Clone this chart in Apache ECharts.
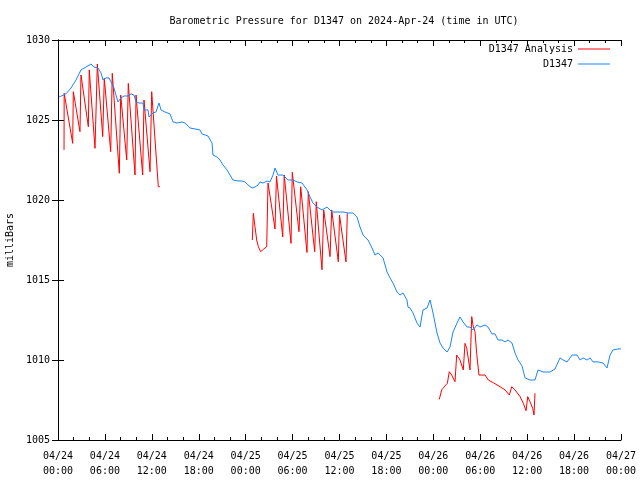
<!DOCTYPE html>
<html><head><meta charset="utf-8">
<script src="https://cdn.jsdelivr.net/npm/echarts@6/dist/echarts.min.js"></script>
<style>html,body{margin:0;padding:0;background:#fff}#c{width:640px;height:480px}</style>
</head><body><div id="c"></div>
<script>
// hours since 2024-04-24 00:00 UTC, pressure in mb
const observed = [
[0.15,1026.44],[1.02,1026.63],[1.66,1027.0],[2.30,1027.5],[2.94,1028.13],[3.58,1028.31],[4.22,1028.5],[4.60,1028.31],
[5.12,1028.25],[5.50,1027.94],[5.76,1027.5],[6.14,1027.63],[6.52,1027.63],[6.78,1027.38],[7.16,1027.0],[7.67,1026.13],
[8.06,1026.38],[8.44,1026.5],[8.95,1026.5],[9.34,1026.63],[9.72,1026.56],[9.98,1026.13],[10.36,1026.06],[10.87,1026.06],
[11.0,1025.63],[11.51,1025.63],[11.64,1025.19],[12.15,1025.44],[12.53,1025.5],[12.92,1026.06],[13.17,1025.63],[13.68,1025.5],
[14.32,1025.38],[14.71,1024.88],[15.22,1024.81],[15.86,1024.88],[16.24,1024.81],[16.88,1024.5],[17.52,1024.44],[18.16,1024.38],
[18.42,1024.13],[19.18,1024.0],[19.70,1023.56],[19.82,1022.81],[20.33,1022.69],[20.72,1022.5],[21.10,1022.19],[21.61,1021.88],
[22.0,1021.56],[22.38,1021.25],[23.02,1021.19],[23.53,1021.19],[23.92,1021.13],[24.30,1020.94],[24.81,1020.75],[25.19,1020.81],
[25.58,1020.94],[25.83,1021.13],[26.22,1021.06],[26.73,1021.19],[27.11,1021.13],[27.50,1021.56],[27.75,1022.0],[28.14,1021.56],
[28.78,1021.56],[29.42,1021.25],[30.05,1021.25],[30.57,1021.13],[31.21,1021.06],[31.85,1020.63],[32.23,1020.19],[32.61,1019.81],
[33.12,1019.56],[33.76,1019.38],[34.40,1019.56],[35.04,1019.25],[35.68,1019.25],[36.45,1019.25],[37.09,1019.19],[37.73,1019.19],
[38.24,1018.94],[38.62,1018.31],[39.01,1017.81],[39.65,1017.5],[40.16,1017.0],[40.54,1016.56],[40.93,1016.69],[41.57,1016.38],
[42.08,1015.5],[42.46,1015.13],[42.84,1014.81],[43.36,1014.25],[43.74,1014.06],[44.12,1014.19],[44.63,1013.75],[44.76,1013.31],
[45.02,1013.25],[45.40,1012.94],[45.91,1012.31],[46.30,1012.06],[46.68,1013.13],[47.19,1013.25],[47.58,1013.75],[47.96,1012.94],
[48.47,1011.69],[48.86,1011.06],[49.24,1010.75],[49.75,1010.5],[50.13,1010.81],[50.52,1011.75],[51.03,1012.31],[51.41,1012.69],
[51.80,1012.38],[52.31,1012.06],[52.69,1012.06],[53.08,1011.88],[53.59,1012.19],[53.97,1012.06],[54.61,1012.19],[54.99,1012.06],
[55.51,1011.63],[55.89,1011.63],[56.27,1011.25],[56.78,1011.25],[57.17,1011.13],[57.55,1011.25],[58.06,1011.06],[58.45,1010.44],
[58.83,1010.0],[59.34,1009.63],[59.73,1008.88],[60.36,1008.75],[61.0,1008.75],[61.39,1009.38],[62.03,1009.25],[62.92,1009.25],
[63.56,1009.44],[64.20,1010.13],[64.59,1010.0],[65.10,1009.88],[65.74,1010.31],[66.38,1010.31],[66.77,1010.0],[67.15,1010.13],
[67.66,1010.0],[68.05,1010.13],[68.42,1009.88],[69.06,1009.88],[69.70,1009.81],[70.21,1009.5],[70.60,1010.31],[70.98,1010.63],
[71.62,1010.69],[72.0,1010.69]
];
const analysisA = [
[0.77,1023.13],[0.79,1026.67],[1.88,1023.54],[1.96,1026.77],[2.81,1024.27],[2.94,1027.81],[3.88,1024.58],[4.00,1028.13],
[4.73,1023.23],[5.03,1028.5],[5.72,1023.96],[5.92,1027.61],[6.74,1023.02],[6.94,1027.92],[7.84,1021.67],[8.02,1026.56],
[8.79,1022.5],[8.99,1027.29],[9.85,1021.56],[9.98,1026.56],[10.83,1021.56],[11.0,1026.25],[11.77,1021.77],[11.98,1026.77],
[12.83,1020.83],[13.04,1020.83]
];
const analysisB = [
[24.85,1017.5],[24.98,1019.17],[25.19,1018.33],[25.41,1017.5],[25.62,1017.08],[25.92,1016.77],[26.26,1016.92],[26.69,1017.08],
[26.86,1021.06],[27.75,1018.19],[27.94,1021.5],[28.74,1017.69],[28.93,1021.56],[29.80,1017.29],[29.96,1021.73],[30.82,1018.02],
[31.04,1020.83],[31.84,1016.72],[32.01,1020.52],[32.83,1016.77],[33.03,1019.89],[33.76,1015.64],[33.98,1019.38],[34.79,1016.46],
[35.0,1019.38],[35.85,1016.14],[36.0,1019.06],[36.83,1016.13],[37.0,1019.17]
];
const analysisC = [
[48.76,1007.54],[49.07,1008.13],[49.49,1008.38],[49.79,1008.54],[50.04,1009.27],[50.35,1009.06],[50.77,1008.64],[50.99,1010.31],
[51.41,1010.0],[51.83,1009.38],[52.05,1011.04],[52.27,1010.73],[52.69,1009.38],[52.91,1012.71],[53.11,1012.08],[53.33,1011.77],
[53.54,1010.42],[53.84,1009.06],[54.61,1009.06],[55.03,1008.75],[55.67,1008.58],[56.53,1008.33],[57.17,1008.13],[57.72,1007.81],
[58.03,1008.33],[58.45,1008.13],[59.09,1007.71],[59.51,1007.29],[59.86,1006.83],[60.07,1007.71],[60.36,1007.40],[60.71,1006.98],
[60.87,1006.56],[61.0,1007.92]
];
const startDay = 24;
const FONT = '"DejaVu Sans Mono", "Liberation Mono", monospace';

function hourLabel(v){
  const d = startDay + Math.floor(v/24);
  const h = Math.round(v % 24);
  return '04/' + String(d).padStart(2,'0') + '\n' + String(h).padStart(2,'0') + ':00';
}
const chart = echarts.init(document.getElementById('c'), null, {renderer:'canvas'});
const axisCommon = {
  axisLine:{show:true, lineStyle:{color:'#000', width:1}},
  axisTick:{show:true, inside:true, length:6, lineStyle:{color:'#000'}},
  splitLine:{show:false}
};
const BLUE = '#1a84ff';
const redLine = {type:'line', name:'D1347 Analysis', showSymbol:false, symbol:'none', lineStyle:{color:'#ff0000', width:1}, itemStyle:{color:'#ff0000'}, z:2};
const legendIcon = 'path://M0,0 L32,0 L32,1 L0,1 Z';
chart.setOption({
  animation:false,
  backgroundColor:'#fff',
  title:{text:'Barometric Pressure for D1347 on 2024-Apr-24 (time in UTC)', left:339, textAlign:'center', top:11,
    textStyle:{fontFamily:FONT, fontSize:10, fontWeight:'normal', color:'#000'}},
  legend:[
    {data:[{name:'D1347 Analysis', icon:legendIcon}], right:30, top:44, align:'right', padding:0, itemWidth:32, itemHeight:1,
      textStyle:{fontFamily:FONT, fontSize:10, color:'#000'}},
    {data:[{name:'D1347', icon:legendIcon}], right:30, top:59, align:'right', padding:0, itemWidth:32, itemHeight:1,
      textStyle:{fontFamily:FONT, fontSize:10, color:'#000'}}
  ],
  grid:{left:58, right:19, top:40, bottom:40, containLabel:false, outerBoundsMode:'none'},
  xAxis:[
    Object.assign({type:'value', min:0, max:72, interval:6, position:'bottom',
      minorTick:{show:true, splitNumber:3, length:3, lineStyle:{color:'#000'}},
      axisLabel:{formatter:hourLabel, fontFamily:FONT, fontSize:10, color:'#000', margin:9, lineHeight:15}}, axisCommon),
    Object.assign({type:'value', min:0, max:72, interval:6, position:'top',
      minorTick:{show:true, splitNumber:3, length:3, lineStyle:{color:'#000'}},
      axisLabel:{show:false}}, axisCommon)
  ],
  yAxis:[
    Object.assign({type:'value', min:1005, max:1030, interval:5, position:'left',
      name:'milliBars', nameLocation:'middle', nameGap:40, nameRotate:90,
      nameTextStyle:{fontFamily:FONT, fontSize:10, color:'#000'},
      axisLabel:{formatter:function(v){return String(v);}, fontFamily:FONT, fontSize:10, color:'#000', margin:8}}, axisCommon),
    Object.assign({type:'value', min:1005, max:1030, interval:5, position:'right',
      axisLabel:{show:false}}, axisCommon)
  ],
  series:[
    Object.assign({data:analysisA}, redLine),
    Object.assign({data:analysisB}, redLine),
    Object.assign({data:analysisC}, redLine),
    {type:'line', name:'D1347', data:observed, showSymbol:false, symbol:'none',
      lineStyle:{color:BLUE, width:1}, itemStyle:{color:BLUE}, z:3}
  ]
});
</script></body></html>
